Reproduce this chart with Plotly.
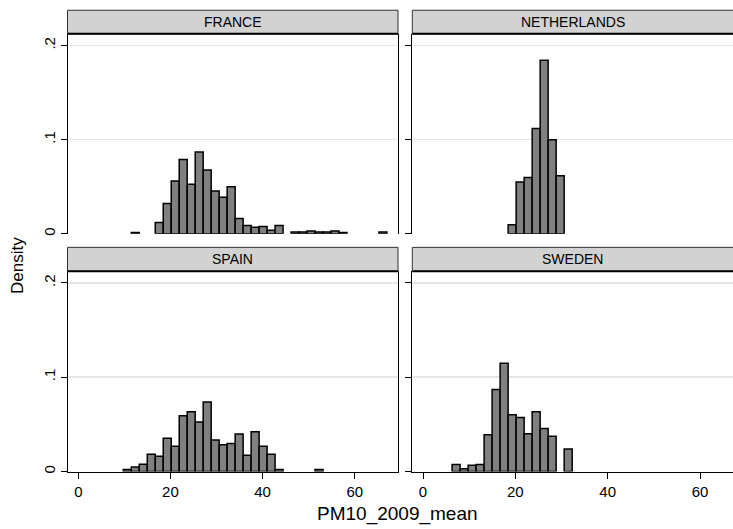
import plotly.graph_objects as go

# ---------------- data ----------------
countries = ["FRANCE", "NETHERLANDS", "SPAIN", "SWEDEN"]
bin_start = 6.3          # lower edge of the first histogram bin
bin_width = 1.734        # common bin width

france = {3: 0.0015, 6: 0.0121, 7: 0.0322, 8: 0.0561, 9: 0.0790, 10: 0.0526,
          11: 0.0868, 12: 0.0677, 13: 0.0455, 14: 0.0388, 15: 0.0501,
          16: 0.0163, 17: 0.0089, 18: 0.0071, 19: 0.0078, 20: 0.0039,
          21: 0.0089, 23: 0.0018, 24: 0.0018, 25: 0.0030, 26: 0.0018,
          27: 0.0018, 28: 0.0030, 29: 0.0015, 34: 0.0018}
netherlands = {7: 0.0095, 8: 0.0550, 9: 0.0597, 10: 0.1119, 11: 0.1845,
               12: 0.0999, 13: 0.0618}
spain = {2: 0.0021, 3: 0.0049, 4: 0.0077, 5: 0.0183, 6: 0.0162, 7: 0.0352,
         8: 0.0267, 9: 0.0592, 10: 0.0634, 11: 0.0524, 12: 0.0736,
         13: 0.0334, 14: 0.0285, 15: 0.0296, 16: 0.0398, 17: 0.0172,
         18: 0.0423, 19: 0.0267, 20: 0.0183, 21: 0.0021, 26: 0.0020}
sweden = {0: 0.0074, 1: 0.0028, 2: 0.0067, 3: 0.0074, 4: 0.0391, 5: 0.0870,
          6: 0.1148, 7: 0.0602, 8: 0.0574, 9: 0.0401, 10: 0.0634,
          11: 0.0457, 12: 0.0373, 14: 0.0239}
series = [france, netherlands, spain, sweden]

x_ticks = [0, 20, 40, 60]
y_ticks = [0, 0.1, 0.2]
y_tick_labels = ["0", ".1", ".2"]
x_title = "PM10_2009_mean"
y_title = "Density"

# ---------------- layout geometry ----------------
W, H = 750, 529          # a little wider than the window: the right panel runs off the edge
FONT = "Liberation Sans, Arial, sans-serif"

def px_x(p):
    return p / W

def px_y(p):
    return 1 - p / H

col_px = [(67.5, 398.0), (412.3, W)]
col_label_px = [232.7, 572.7]   # strip label centres (visible panel centres)
col_zero = [78.3, 423.0]        # pixel of x = 0
col_scale = [4.607, 4.617]      # pixels per x unit
row_px = [(34.0, 234.7), (272.3, 473.3)]
strip_px = [(10.3, 34.0), (248.3, 272.3)]
y_range = [0, 0.2124]

fig = go.Figure()
shapes = []
annotations = []

for i, (name, data) in enumerate(zip(countries, series)):
    r, c = divmod(i, 2)
    idx = "" if i == 0 else str(i + 1)
    ks = sorted(data)
    xs = [bin_start + bin_width * (k + 0.5) for k in ks]
    ys = [data[k] for k in ks]
    fig.add_trace(go.Bar(
        x=xs, y=ys, width=bin_width,
        marker=dict(color="#808080", line=dict(color="#000000", width=1.5)),
        xaxis="x" + idx, yaxis="y" + idx, showlegend=False,
        hoverinfo="x+y"))

    xr = [(col_px[c][0] - col_zero[c]) / col_scale[c],
          (col_px[c][1] - col_zero[c]) / col_scale[c]]
    xd = [px_x(col_px[c][0]), px_x(col_px[c][1])]
    yd = [px_y(row_px[r][1]), px_y(row_px[r][0])]
    bottom = (r == 1)
    fig.layout["xaxis" + idx] = dict(
        domain=xd, range=xr, anchor="y" + idx,
        tickvals=x_ticks, showticklabels=bottom,
        ticks="outside" if bottom else "", ticklen=6, tickcolor="#000",
        tickfont=dict(family=FONT, size=15, color="#000"),
        showline=bottom, linecolor="#000", linewidth=1,
        showgrid=False, zeroline=False, fixedrange=True)
    fig.layout["yaxis" + idx] = dict(
        domain=yd, range=y_range, anchor="x" + idx,
        tickvals=y_ticks, ticktext=y_tick_labels,
        showticklabels=(c == 0), tickangle=-90,
        ticks="outside", ticklen=6, tickcolor="#000",
        tickfont=dict(family=FONT, size=15, color="#000"),
        showline=True, mirror=(c == 0), linecolor="#000", linewidth=1,
        showgrid=True, gridcolor="#e6e6e6", gridwidth=1.5,
        zeroline=False, fixedrange=True)

    # strip header
    sx0, sx1 = px_x(col_px[c][0]), px_x(col_px[c][1] + (8 if c == 1 else 0))
    sy0, sy1 = px_y(strip_px[r][1]), px_y(strip_px[r][0])
    shapes.append(dict(type="rect", xref="paper", yref="paper",
                       x0=sx0, x1=sx1, y0=sy0, y1=sy1,
                       fillcolor="#d2d2d2", line=dict(color="#333333", width=1),
                       layer="above"))
    shapes.append(dict(type="line", xref="paper", yref="paper",
                       x0=sx0, x1=sx1, y0=sy0, y1=sy0,
                       line=dict(color="#000000", width=2), layer="above"))
    annotations.append(dict(text=name, xref="paper", yref="paper",
                            x=px_x(col_label_px[c]),
                            y=(sy0 + sy1) / 2, xanchor="center", yanchor="middle",
                            showarrow=False,
                            font=dict(family=FONT, size=14, color="#000")))

annotations.append(dict(text=y_title, xref="paper", yref="paper",
                        x=px_x(18), y=px_y(267), textangle=-90,
                        xanchor="center", yanchor="middle", showarrow=False,
                        font=dict(family=FONT, size=17, color="#000")))
annotations.append(dict(text=x_title, xref="paper", yref="paper",
                        x=px_x(398), y=px_y(516), xanchor="center",
                        yanchor="middle", showarrow=False,
                        font=dict(family=FONT, size=19, color="#000")))

fig.update_layout(
    width=W, height=H, autosize=False,
    margin=dict(l=0, r=0, t=0, b=0),
    paper_bgcolor="#ffffff", plot_bgcolor="#ffffff",
    bargap=0, shapes=shapes, annotations=annotations,
    font=dict(family=FONT, color="#000"))

page_fix = ("document.body.style.margin='0';"
            "document.body.style.overflow='hidden';"
            "document.documentElement.style.overflow='hidden';")
fig.write_html("out.html", post_script=page_fix,
               config={"displayModeBar": False, "staticPlot": True})
